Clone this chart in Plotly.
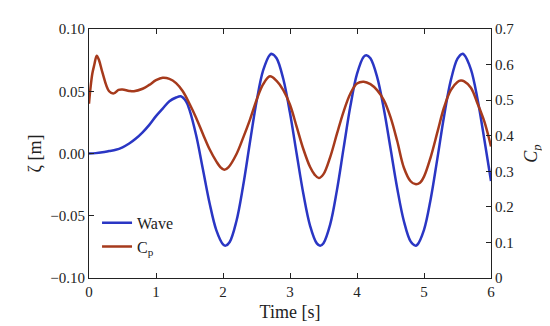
import plotly.graph_objects as go

time_s = [0.0, 0.1, 0.2, 0.3, 0.4, 0.5, 0.6, 0.7, 0.8, 0.9,
          1.0, 1.1, 1.2, 1.3, 1.37, 1.45, 1.5, 1.6, 1.7, 1.8, 1.9,
          2.0, 2.04, 2.1, 2.2, 2.3, 2.4, 2.5, 2.6, 2.7, 2.73, 2.8, 2.9,
          3.0, 3.1, 3.2, 3.3, 3.4, 3.45, 3.5, 3.6, 3.7, 3.8, 3.9,
          4.0, 4.1, 4.14, 4.2, 4.3, 4.4, 4.5, 4.6, 4.7, 4.8, 4.87, 4.9,
          5.0, 5.1, 5.2, 5.3, 5.4, 5.5, 5.57, 5.6, 5.7, 5.8, 5.9, 6.0]
wave_m = [0.0, 0.0003, 0.001, 0.002, 0.003, 0.005, 0.008, 0.012, 0.017, 0.023,
          0.030, 0.036, 0.042, 0.045, 0.046, 0.0418, 0.035, 0.0144, -0.0126, -0.0399, -0.0615,
          -0.0729, -0.074, -0.0711, -0.0544, -0.0261, 0.0082, 0.0415, 0.0669, 0.0793, 0.080, 0.0765, 0.0598,
          0.0325, -0.0004, -0.0326, -0.0581, -0.0722, -0.074, -0.072, -0.0569, -0.0296, 0.0043, 0.0377,
          0.0639, 0.0777, 0.079, 0.0765, 0.0616, 0.0359, 0.0042, -0.0279, -0.0544, -0.0706, -0.074, -0.0733,
          -0.0613, -0.0365, -0.0039, 0.0301, 0.0587, 0.0762, 0.080, 0.0793, 0.0676, 0.0434, 0.0115, -0.0221]

cp_time = [0.0, 0.02, 0.05, 0.08, 0.115, 0.15, 0.2, 0.3, 0.37, 0.44, 0.5, 0.6, 0.67, 0.8, 0.9,
           1.0, 1.1, 1.2, 1.3, 1.4, 1.5, 1.6, 1.7, 1.8, 1.9,
           1.96, 2.02, 2.08, 2.2, 2.3, 2.4, 2.5, 2.6, 2.7, 2.8, 2.9,
           3.0, 3.1, 3.2, 3.3, 3.37, 3.43, 3.5, 3.6, 3.7, 3.8, 3.9,
           4.0, 4.1, 4.2, 4.3, 4.4, 4.5, 4.6, 4.7, 4.8, 4.87, 4.94,
           5.0, 5.1, 5.2, 5.3, 5.4, 5.5, 5.55, 5.6, 5.7, 5.8, 5.9, 6.0]
cp_vals = [0.49, 0.53, 0.575, 0.60, 0.625, 0.612, 0.578, 0.525, 0.519, 0.529, 0.530, 0.526, 0.525, 0.532, 0.543,
           0.556, 0.563, 0.560, 0.548, 0.525, 0.490, 0.450, 0.405, 0.362, 0.328,
           0.312, 0.304, 0.311, 0.348, 0.394, 0.444, 0.500, 0.545, 0.567, 0.554, 0.528,
           0.487, 0.425, 0.362, 0.312, 0.290, 0.281, 0.292, 0.340, 0.405, 0.468, 0.518,
           0.547, 0.552, 0.545, 0.528, 0.500, 0.452, 0.385, 0.310, 0.272, 0.264, 0.268,
           0.285, 0.340, 0.410, 0.480, 0.528, 0.551, 0.555, 0.553, 0.535, 0.490, 0.440, 0.370]

x_ticks = [0, 1, 2, 3, 4, 5, 6]
left_ticks = [-0.10, -0.05, 0.0, 0.05, 0.10]
right_ticks = [0, 0.1, 0.2, 0.3, 0.4, 0.5, 0.6, 0.7]

BLUE = "#2a36c4"
RED = "#a63a1c"
FONT = "Liberation Serif"

fig = go.Figure()
fig.add_trace(go.Scatter(x=time_s, y=wave_m, mode="lines", name="Wave",
                         line=dict(color=BLUE, width=2.5, shape="spline", smoothing=1.0),
                         legendgroup="a", yaxis="y"))
fig.add_trace(go.Scatter(x=cp_time, y=cp_vals, mode="lines", name="C<sub>p</sub>",
                         line=dict(color=RED, width=2.5, shape="spline", smoothing=1.0),
                         legendgroup="b", yaxis="y2"))

axis_common = dict(showline=True, linecolor="#222", linewidth=1.2, ticks="inside",
                   ticklen=5, tickcolor="#222", showgrid=False, zeroline=False,
                   tickfont=dict(family=FONT, size=15, color="#222"))

fig.update_layout(
    width=550, height=326,
    margin=dict(l=81, r=67, t=21, b=56),
    paper_bgcolor="white", plot_bgcolor="white",
    font=dict(family=FONT, size=15, color="#222"),
    xaxis=dict(range=[0, 6], tickvals=x_ticks, mirror="ticks",
               title=dict(text="Time [s]", font=dict(family=FONT, size=18), standoff=6),
               **axis_common),
    yaxis=dict(range=[-0.1, 0.1], tickvals=left_ticks, tickformat=".2f",
               title=dict(text="ζ [m]", font=dict(family=FONT, size=18), standoff=3),
               **axis_common),
    yaxis2=dict(range=[0, 0.7], tickvals=right_ticks, overlaying="y", side="right",
                title=dict(text="<i>C<sub>p</sub></i>", font=dict(family=FONT, size=18), standoff=11),
                **axis_common),
    legend=dict(x=0.02, y=0.29, xanchor="left", yanchor="top", bgcolor="rgba(0,0,0,0)",
                font=dict(family=FONT, size=16, color="#222"),
                traceorder="grouped", tracegroupgap=0),
    showlegend=True,
)

fig.write_html("out.html")
